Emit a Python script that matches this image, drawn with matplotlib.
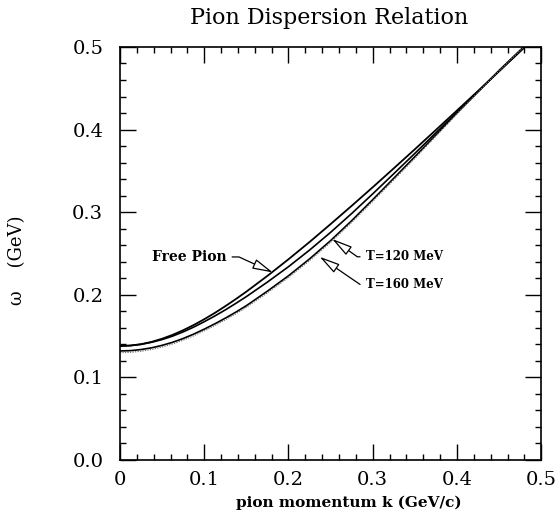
import matplotlib
matplotlib.use("Agg")
import matplotlib.pyplot as plt
from matplotlib.ticker import MultipleLocator

# momento del pion (GeV/c)
k = [0.0, 0.0125, 0.025, 0.0375, 0.05, 0.0625, 0.075, 0.0875, 0.1, 0.1125, 0.125, 0.1375,
     0.15, 0.175, 0.2, 0.225, 0.25, 0.275, 0.3, 0.325, 0.35, 0.375, 0.4, 0.425, 0.45, 0.475, 0.5]

# energia (GeV)
omega_free = [0.138, 0.1386, 0.1402, 0.1430, 0.1468, 0.1515, 0.1571, 0.1634, 0.1704, 0.1780,
              0.1862, 0.1948, 0.2038, 0.2229, 0.2430, 0.2639, 0.2856, 0.3077, 0.3302, 0.3531,
              0.3762, 0.3996, 0.4231, 0.4468, 0.4707, 0.4946, 0.5187]
omega_mid = [0.138, 0.1385, 0.1400, 0.1425, 0.1458, 0.1500, 0.1551, 0.1609, 0.1674, 0.1743,
             0.1817, 0.1896, 0.1978, 0.2154, 0.2340, 0.2541, 0.2756, 0.2984, 0.3222, 0.3466,
             0.3712, 0.3961, 0.4211, 0.4458, 0.4707, 0.4951, 0.5195]
omega_t120 = [0.132, 0.1324, 0.1337, 0.1358, 0.1388, 0.1425, 0.1471, 0.1524, 0.1584, 0.1648,
              0.1717, 0.1790, 0.1868, 0.2044, 0.2230, 0.2434, 0.2656, 0.2897, 0.3152, 0.3411,
              0.3672, 0.3936, 0.4201, 0.4458, 0.4717, 0.4961, 0.5207]
omega_t160 = [0.130, 0.1304, 0.1317, 0.1338, 0.1368, 0.1405, 0.1451, 0.1504, 0.1564, 0.1628,
              0.1697, 0.1770, 0.1848, 0.2024, 0.2210, 0.2414, 0.2636, 0.2877, 0.3132, 0.3391,
              0.3652, 0.3921, 0.4191, 0.4451, 0.4712, 0.4958, 0.5205]

serif = "DejaVu Serif"

fig = plt.figure(figsize=(5.58, 5.16), dpi=100)
ax = fig.add_axes([0.215, 0.1085, 0.755, 0.8005])

ax.plot(k, omega_free, color="black", lw=1.3)
ax.plot(k, omega_mid, color="black", lw=1.2)
ax.plot(k, omega_t120, color="black", lw=1.2)
ax.plot(k, omega_t160, color="0.45", lw=0.9, linestyle=(0, (1, 1)))

ax.set_xlim(0, 0.5)
ax.set_ylim(0, 0.5)

# ticks hacia dentro en los cuatro lados
ax.xaxis.set_major_locator(MultipleLocator(0.1))
ax.xaxis.set_minor_locator(MultipleLocator(0.02))
ax.yaxis.set_major_locator(MultipleLocator(0.1))
ax.yaxis.set_minor_locator(MultipleLocator(0.02))
ax.tick_params(which="both", direction="in", top=True, right=True, width=1.0)
ax.tick_params(which="major", length=11.5)
ax.tick_params(which="minor", length=4.3)
ax.tick_params(axis="x", pad=8)
ax.tick_params(axis="y", pad=12)
ax.set_xticks([0, 0.1, 0.2, 0.3, 0.4, 0.5])
ax.set_xticklabels(["0", "0.1", "0.2", "0.3", "0.4", "0.5"])
ax.set_yticks([0, 0.1, 0.2, 0.3, 0.4, 0.5])
ax.set_yticklabels(["0.0", "0.1", "0.2", "0.3", "0.4", "0.5"])
for lab in ax.get_xticklabels() + ax.get_yticklabels():
    lab.set_fontfamily(serif)
    lab.set_fontsize(14)
for sp in ax.spines.values():
    sp.set_linewidth(1.2)

# etiquetas con flechas
arrow = dict(arrowstyle="-|>,head_length=1.4,head_width=0.35", fc="white", ec="black",
             lw=0.9, shrinkB=0, mutation_scale=9)
ax.annotate("Free Pion", xy=(0.1815, 0.227), xytext=(0.1265, 0.2458), ha="right", va="center",
            fontfamily=serif, fontweight="bold", fontsize=10,
            arrowprops=dict(arrow, connectionstyle="angle,angleA=0,angleB=-24.6,rad=0"))
ax.annotate("T=120 MeV", xy=(0.2518, 0.2676), xytext=(0.2915, 0.246), ha="left", va="center",
            fontfamily=serif, fontweight="bold", fontsize=8.5,
            arrowprops=dict(arrow, connectionstyle="angle,angleA=0,angleB=-35.3,rad=0"))
ax.annotate("T=160 MeV", xy=(0.237, 0.246), xytext=(0.2915, 0.212), ha="left", va="center",
            fontfamily=serif, fontweight="bold", fontsize=8.5,
            arrowprops=dict(arrow, connectionstyle="angle,angleA=0,angleB=-34.4,rad=0"))

fig.text(0.59, 0.965, "Pion Dispersion Relation", ha="center", va="center",
         fontfamily=serif, fontsize=16)
fig.text(0.625, 0.025, "pion momentum k (GeV/c)", ha="center", va="center",
         fontfamily=serif, fontweight="bold", fontsize=11)
fig.text(0.03, 0.496, "ω    (GeV)", ha="center", va="center", rotation=90,
         fontfamily=serif, fontsize=13)

fig.savefig("out.png", dpi=100)
